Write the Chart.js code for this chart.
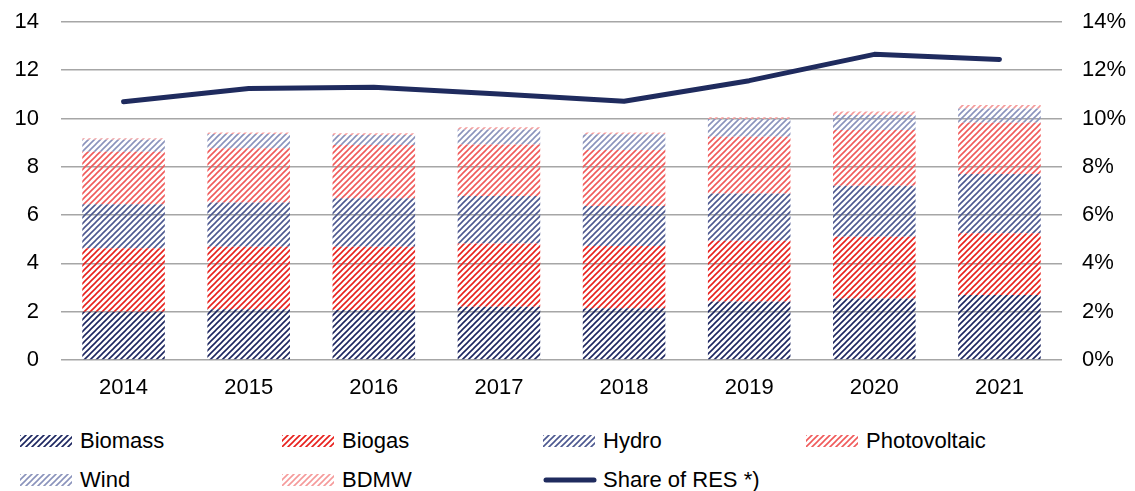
<!DOCTYPE html>
<html>
<head>
<meta charset="utf-8">
<script src="https://cdn.jsdelivr.net/npm/chart.js@4.4.1/dist/chart.umd.min.js"></script>
<style>
  body { margin: 0; background: #fff; font-family: "Liberation Sans", Arial, sans-serif; }
  #wrap { position: relative; width: 1135px; height: 491px; overflow: hidden; }
  #chart-box { position: absolute; left: 0; top: 0; width: 1135px; height: 400px; }
  .legend-item { position: absolute; display: flex; align-items: center; font-size: 22px; color: #000; white-space: nowrap; line-height: 1; }
  .legend-item canvas { margin-right: 6px; }
</style>
</head>
<body>
<div id="wrap">
  <div id="chart-box"><canvas id="graphic" width="1135" height="400"></canvas></div>
  <div id="legend"></div>
</div>
<script>
const years = ["2014", "2015", "2016", "2017", "2018", "2019", "2020", "2021"]
const biomass = [2.0, 2.1, 2.07, 2.21, 2.14, 2.42, 2.55, 2.69]
const biogas = [2.63, 2.59, 2.62, 2.62, 2.58, 2.52, 2.56, 2.56]
const hydro = [1.82, 1.83, 2.01, 1.96, 1.66, 1.96, 2.11, 2.45]
const photovoltaic = [2.18, 2.25, 2.21, 2.14, 2.32, 2.35, 2.31, 2.13]
const wind = [0.49, 0.59, 0.41, 0.62, 0.65, 0.73, 0.62, 0.59]
const bdmw = [0.06, 0.06, 0.07, 0.09, 0.07, 0.07, 0.14, 0.14]
const shareRes = [10.7, 11.25, 11.3, 11.02, 10.72, 11.57, 12.66, 12.45]
const leftTicks = [0, 2, 4, 6, 8, 10, 12, 14]
const rightTicks = ["0%", "2%", "4%", "6%", "8%", "10%", "12%", "14%"]

const textColor = "#000"
const gridColor = "#a6a6a6"
const navy = "#1f2b5e"

// diagonal hatch like the office fill patterns
const makePattern = (color, size = 6, width = 1.6) => {
  const tile = document.createElement("canvas")
  tile.width = size
  tile.height = size
  const ctx = tile.getContext("2d")
  ctx.strokeStyle = color
  ctx.lineWidth = width
  ctx.beginPath()
  ctx.moveTo(0, size); ctx.lineTo(size, 0)
  ctx.moveTo(-1, 1); ctx.lineTo(1, -1)
  ctx.moveTo(size - 1, size + 1); ctx.lineTo(size + 1, size - 1)
  ctx.stroke()
  return document.createElement("canvas").getContext("2d").createPattern(tile, "repeat")
}

const series = [
  { label: "Biomass", data: biomass, color: "#1c2660" },
  { label: "Biogas", data: biogas, color: "#e8201c" },
  { label: "Hydro", data: hydro, color: "#4c5890" },
  { label: "Photovoltaic", data: photovoltaic, color: "#f05a5a" },
  { label: "Wind", data: wind, color: "#8a93bc" },
  { label: "BDMW", data: bdmw, color: "#f59a9a" },
]

const barSets = series.map((s) => ({
  type: "bar",
  label: s.label,
  data: s.data,
  backgroundColor: makePattern(s.color),
  borderWidth: 0,
  stack: "res",
  yAxisID: "y",
  order: 1,
  categoryPercentage: 1,
  barPercentage: 0.66,
}))

const lineSet = {
  type: "line",
  label: "Share of RES *)",
  data: shareRes,
  borderColor: navy,
  borderWidth: 5,
  borderCapStyle: "round",
  borderJoinStyle: "round",
  pointRadius: 0,
  tension: 0,
  yAxisID: "y1",
  order: 0,
}

const font = { family: "'Liberation Sans', Arial, sans-serif", size: 22 }

const fitY = (w) => (s) => {
  s.width = w
  s.paddingTop = 0
  s.paddingBottom = 0
}

const graphic = document.querySelector("#graphic")
const chart = new Chart(graphic, {
  data: { labels: years, datasets: [...barSets, lineSet] },
  options: {
    responsive: false,
    animation: false,
    devicePixelRatio: 1,
    layout: { padding: { top: 22, left: 0, right: 0, bottom: 0 } },
    plugins: { legend: { display: false }, tooltip: { enabled: false } },
    scales: {
      x: {
        stacked: true,
        grid: { display: false },
        border: { display: false },
        ticks: { color: textColor, font: font, padding: 7 },
        afterFit: (s) => { s.height = 40 },
      },
      y: {
        stacked: true,
        position: "left",
        min: 0,
        max: 14,
        afterBuildTicks: (s) => { s.ticks = leftTicks.map((v) => ({ value: v })) },
        ticks: { color: textColor, font: font, padding: 22 },
        grid: { color: gridColor, lineWidth: 1.6, drawTicks: false },
        border: { display: false },
        afterFit: fitY(61),
      },
      y1: {
        position: "right",
        min: 0,
        max: 14,
        afterBuildTicks: (s) => { s.ticks = leftTicks.map((v) => ({ value: v })) },
        ticks: {
          color: textColor, font: font, padding: 20,
          callback: (v) => rightTicks[leftTicks.indexOf(v)],
        },
        grid: { display: false, drawTicks: false },
        border: { display: false },
        afterFit: fitY(73),
      },
    },
  },
})

// legend in 4 columns, 2 rows
const legend = document.querySelector("#legend")
const legendCols = [20, 282, 543, 806]
const legendRows = [441, 480]
const legendItems = [...series.map((s) => ({ label: s.label, color: s.color, line: false })),
  { label: "Share of RES *)", color: navy, line: true }]

legendItems.forEach((item, i) => {
  const div = document.createElement("div")
  div.className = "legend-item"
  div.style.left = legendCols[i % 4] + "px"
  div.style.top = (legendRows[Math.floor(i / 4)] - 12) + "px"
  div.style.height = "24px"
  const sw = document.createElement("canvas")
  sw.width = 54
  sw.height = 12
  const ctx = sw.getContext("2d")
  if (item.line) {
    ctx.strokeStyle = item.color
    ctx.lineWidth = 5
    ctx.lineCap = "round"
    ctx.beginPath()
    ctx.moveTo(3, 6); ctx.lineTo(51, 6)
    ctx.stroke()
  } else {
    ctx.fillStyle = makePattern(item.color)
    ctx.fillRect(0, 0, 52, 12)
  }
  const span = document.createElement("span")
  span.textContent = item.label
  div.appendChild(sw)
  div.appendChild(span)
  legend.appendChild(div)
})
</script>
</body>
</html>
